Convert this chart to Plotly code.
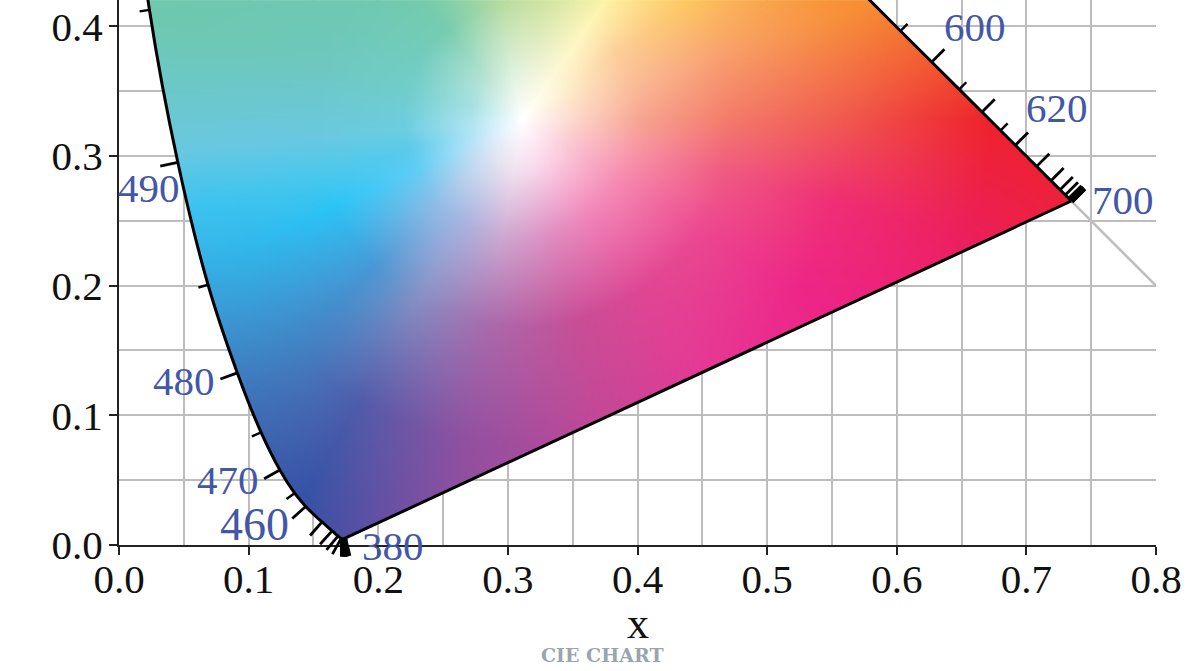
import numpy as np
import plotly.graph_objects as go

# spectral locus, nm and chromaticity
WAVELENGTHS = list(range(380, 705, 5))
LOCUS_X = [.1741, .1740, .1738, .1736, .1733, .1730, .1726, .1721, .1714, .1703, .1689, .1669, .1644,
           .1611, .1566, .1510, .1440, .1355, .1241, .1096, .0913, .0687, .0454, .0235, .0082, .0039,
           .0139, .0389, .0743, .1142, .1547, .1929, .2296, .2658, .3016, .3373, .3731, .4087, .4441,
           .4788, .5125, .5448, .5752, .6029, .6270, .6482, .6658, .6801, .6915, .7006, .7079, .7140,
           .7190, .7230, .7260, .7283, .7300, .7320, .7334, .7344, .7347, .7347, .7347, .7347, .7347]
LOCUS_Y = [.0050, .0050, .0049, .0049, .0048, .0048, .0048, .0048, .0051, .0058, .0069, .0086, .0109,
           .0138, .0177, .0227, .0297, .0399, .0578, .0868, .1327, .2007, .2950, .4127, .5384, .6548,
           .7502, .8120, .8338, .8262, .8059, .7816, .7543, .7243, .6923, .6589, .6245, .5896, .5547,
           .5202, .4866, .4544, .4242, .3965, .3725, .3514, .3340, .3197, .3083, .2993, .2920, .2859,
           .2809, .2770, .2740, .2717, .2700, .2680, .2666, .2656, .2653, .2653, .2653, .2653, .2653]
# short ticks appear only on this part of the curve
SHORT_TICK_RANGE = (465, 615)
# ticks at the two ends merge into a block
BLOCK_TICKS_BELOW, BLOCK_TICKS_ABOVE = 410, 670

# wavelength labels: text, x, y, font size
LABEL_TEXT = ["380", "460", "470", "480", "490", "600", "620", "700"]
LABEL_X = [.2116, .1044, .0844, .0505, .0235, .6602, .7233, .7742]
LABEL_Y = [-.0004, .0157, .0505, .1267, .2754, .3994, .3369, .2661]
LABEL_SIZE = [41, 46, 41, 41, 41, 41, 41, 41]

# colour field: rays out of the white point
WHITE = (0.311, 0.328)
RAY_ANGLES = [0, 18, 35, 55, 75, 100, 130, 165, 185, 195, 205, 225, 240, 260, 285, 305, 328, 345]
RAY_RADII = [0, .04, .09, .16, .25, .36, .5]
RAY_COLORS = [
    [(252, 215, 205), (247, 165, 145), (243, 122, 105), (240, 88, 78), (238, 35, 42), (238, 32, 38)],
    [(253, 225, 200), (250, 188, 152), (248, 160, 110), (247, 145, 60), (245, 125, 30), (244, 105, 30)],
    [(253, 240, 205), (252, 205, 150), (253, 198, 95), (250, 165, 50), (248, 145, 35), (246, 130, 30)],
    [(253, 248, 215), (253, 246, 185), (255, 235, 120), (255, 225, 90), (255, 215, 80), (255, 215, 80)],
    [(238, 243, 215), (215, 230, 165), (190, 222, 140), (170, 215, 130), (160, 210, 125), (160, 210, 125)],
    [(222, 240, 220), (183, 220, 160), (140, 210, 155), (120, 200, 150), (115, 200, 145), (115, 200, 145)],
    [(188, 229, 212), (118, 204, 176), (112, 200, 165), (110, 200, 160), (110, 200, 160), (110, 200, 160)],
    [(165, 225, 225), (112, 205, 202), (110, 200, 190), (110, 200, 178), (110, 200, 170), (110, 200, 170)],
    [(175, 228, 240), (108, 205, 225), (105, 200, 225), (105, 200, 225), (105, 200, 222), (105, 200, 222)],
    [(178, 228, 245), (90, 202, 235), (75, 200, 235), (60, 195, 240), (55, 190, 240), (55, 190, 240)],
    [(188, 228, 248), (95, 205, 245), (42, 196, 245), (50, 180, 232), (70, 150, 210), (70, 150, 210)],
    [(212, 225, 244), (148, 190, 230), (72, 152, 213), (65, 130, 195), (60, 100, 175), (60, 100, 175)],
    [(225, 225, 240), (167, 180, 225), (135, 143, 195), (80, 92, 170), (45, 80, 165), (45, 80, 165)],
    [(240, 225, 240), (205, 170, 210), (168, 107, 172), (145, 80, 160), (138, 75, 160), (138, 75, 160)],
    [(248, 215, 235), (225, 142, 192), (200, 78, 150), (195, 70, 150), (195, 70, 150), (195, 70, 150)],
    [(252, 205, 225), (240, 132, 185), (223, 70, 146), (230, 55, 150), (240, 50, 145), (240, 50, 145)],
    [(250, 200, 215), (245, 135, 175), (236, 73, 145), (237, 38, 135), (235, 30, 130), (235, 30, 130)],
    [(252, 205, 205), (247, 150, 165), (240, 90, 130), (239, 45, 117), (236, 30, 92), (238, 35, 50)],
]

X_MAX, Y_MAX = 0.8, 0.4203
PX_X, PX_Y = 1297.5, 1298.0

lx, ly = np.array(LOCUS_X), np.array(LOCUS_Y)
px_width = 2
nx, ny = int(X_MAX * PX_X / px_width), int(Y_MAX * PX_Y / px_width)
dx, dy = X_MAX / nx, Y_MAX / ny
gx, gy = np.meshgrid((np.arange(nx) + .5) * dx, (np.arange(ny) + .5) * dy)

# polar lookup in the ray table
rel_x, rel_y = gx - WHITE[0], gy - WHITE[1]
ang = np.degrees(np.arctan2(rel_y, rel_x)) % 360
rad = np.minimum(np.hypot(rel_x, rel_y), RAY_RADII[-1] - 1e-6)
angles = np.array(RAY_ANGLES + [360], float)
ai = np.clip(np.searchsorted(angles, ang, side="right") - 1, 0, len(RAY_ANGLES) - 1)
at = (ang - angles[ai]) / (angles[ai + 1] - angles[ai])
radii = np.array(RAY_RADII)
ri = np.clip(np.searchsorted(radii, rad, side="right") - 1, 0, len(radii) - 2)
rt = (rad - radii[ri]) / (radii[ri + 1] - radii[ri])
table = np.concatenate([np.full((len(RAY_ANGLES), 1, 3), 255.0), np.array(RAY_COLORS, float)], axis=1)
aj = (ai + 1) % len(RAY_ANGLES)
ring0 = table[ai, ri] * (1 - at)[..., None] + table[aj, ri] * at[..., None]
ring1 = table[ai, ri + 1] * (1 - at)[..., None] + table[aj, ri + 1] * at[..., None]
rgb = ring0 * (1 - rt)[..., None] + ring1 * rt[..., None]


def rounded_outline(xs, ys, steps=6):
    """Outline for the clip test that follows the smoothed curve rather than its chords."""
    px, py = [], []
    n = len(xs)
    for i in range(n - 1):
        p0, p1, p2, p3 = max(i - 1, 0), i, i + 1, min(i + 2, n - 1)
        for t in np.linspace(0, 1, steps, endpoint=False):
            h = (2 * t**3 - 3 * t**2 + 1, t**3 - 2 * t**2 + t, -2 * t**3 + 3 * t**2, t**3 - t**2)
            px.append(h[0] * xs[p1] + h[1] * (xs[p2] - xs[p0]) / 2 + h[2] * xs[p2] + h[3] * (xs[p3] - xs[p1]) / 2)
            py.append(h[0] * ys[p1] + h[1] * (ys[p2] - ys[p0]) / 2 + h[2] * ys[p2] + h[3] * (ys[p3] - ys[p1]) / 2)
    px.append(xs[-1])
    py.append(ys[-1])
    return np.array(px), np.array(py)


ox, oy = rounded_outline(lx, ly)
inside = np.zeros(gx.shape, bool)
for i in range(len(ox)):
    x1, y1, x2, y2 = ox[i], oy[i], ox[(i + 1) % len(ox)], oy[(i + 1) % len(ox)]
    if y1 == y2:
        continue
    crosses = (y1 > gy) != (y2 > gy)
    hit = gx < (x2 - x1) * (gy - y1) / (y2 - y1) + x1
    inside ^= crosses & hit
rgba = np.dstack([np.round(rgb), inside.astype(float)])

fig = go.Figure()
fig.add_trace(go.Scatter(x=[.7347, .8], y=[.2653, .2], mode="lines", hoverinfo="skip",
                         line=dict(color="#bdbdbd", width=2.5)))
fig.add_trace(go.Image(z=rgba.tolist(), colormodel="rgba", x0=dx / 2, y0=dy / 2, dx=dx, dy=dy, hoverinfo="skip"))
fig.add_trace(go.Scatter(x=lx, y=ly, mode="lines", hoverinfo="skip",
                         line=dict(color="black", width=3, shape="spline", smoothing=1), cliponaxis=False))
fig.add_trace(go.Scatter(x=[lx[-1], lx[0]], y=[ly[-1], ly[0]], mode="lines", hoverinfo="skip",
                         line=dict(color="black", width=3), cliponaxis=False))

# tick marks normal to the curve; they may run below the x axis, so y is on the paper scale
normal = (0.0, -1.0)
MAJOR_LEN, MINOR_LEN = 18 / PX_X, 10 / PX_X
for i, nm in enumerate(WAVELENGTHS):
    a, b = max(i - 1, 0), min(i + 1, len(lx) - 1)
    tx, ty = lx[b] - lx[a], ly[b] - ly[a]
    length = np.hypot(tx, ty)
    if length > 1e-5:
        normal = (-ty / length, tx / length)
    major = nm % 10 == 0
    if not major and not (SHORT_TICK_RANGE[0] <= nm <= SHORT_TICK_RANGE[1]):
        continue
    if ly[i] > Y_MAX:
        continue
    ln = MAJOR_LEN if major else MINOR_LEN
    if nm <= BLOCK_TICKS_BELOW or nm >= BLOCK_TICKS_ABOVE:
        w = 5.5
    else:
        w = 2.8 if major else 2.4
    fig.add_shape(type="line", xref="x", yref="paper",
                  x0=lx[i], x1=lx[i] + normal[0] * ln,
                  y0=ly[i] / Y_MAX, y1=(ly[i] + normal[1] * ln) / Y_MAX,
                  line=dict(color="black", width=w))

serif = "Liberation Serif"
axis_common = dict(dtick=0.1, tick0=0, tickformat=".1f", ticks="outside", ticklen=8, tickwidth=2,
                   tickcolor="#222", showline=True, linewidth=2, linecolor="#222",
                   showgrid=True, gridcolor="#bdbdbd", gridwidth=2.4, zeroline=False,
                   tickfont=dict(family=serif, size=41, color="#111"),
                   minor=dict(dtick=0.05, tick0=0, showgrid=True, gridcolor="#bdbdbd", gridwidth=2.4, ticks=""))
fig.update_layout(
    width=1204, height=671, autosize=False, showlegend=False,
    paper_bgcolor="white", plot_bgcolor="white",
    margin=dict(l=118.5, r=47.5, t=0, b=125.5),
    xaxis=dict(range=[0, X_MAX], ticklabelstandoff=-11, **axis_common),
    yaxis=dict(range=[0, Y_MAX], ticklabelstandoff=-2, **axis_common),
)
for t, x, y, s in zip(LABEL_TEXT, LABEL_X, LABEL_Y, LABEL_SIZE):
    fig.add_annotation(x=x / X_MAX, y=y / Y_MAX, xref="paper", yref="paper", text=t, showarrow=False,
                       xanchor="center", yanchor="middle",
                       font=dict(family=serif, size=s, color="#4357a8"))
fig.add_annotation(xref="paper", yref="paper", x=(638 - 118.5) / 1037.5, y=(545.5 - 624) / 545.5,
                   text="x", showarrow=False, xanchor="center", yanchor="middle",
                   font=dict(family=serif, size=44, color="#111"))
fig.add_annotation(xref="paper", yref="paper", x=(602 - 118.5) / 1037.5, y=(545.5 - 656) / 545.5,
                   text="CIE CHART", showarrow=False, xanchor="center", yanchor="middle",
                   font=dict(family="DejaVu Serif", size=19, color="#9aa5ab", weight=700))

fig.write_html("out.html", config={"displayModeBar": False},
               post_script="document.body.style.margin='0';window.dispatchEvent(new Event('resize'));")
